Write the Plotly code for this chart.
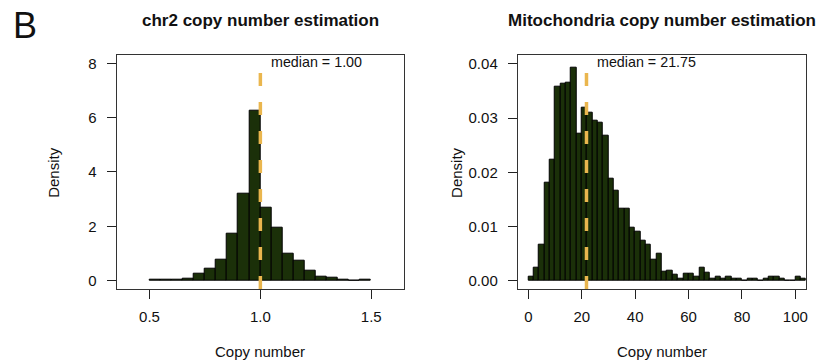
import plotly.graph_objects as go

# ---------------- data ----------------
# chr2 copy number histogram (density), bins of width 0.05 starting at 0.50
chr2_bin_start = 0.50
chr2_bin_width = 0.05
chr2_density = [0.02, 0.02, 0.02, 0.07, 0.25, 0.45, 0.77, 1.74, 3.20, 6.25,
                2.70, 1.95, 0.99, 0.72, 0.37, 0.16, 0.09, 0.02, 0.00, 0.04]
chr2_median = 1.00

# Mitochondria copy number histogram (density), bins of width 2 starting at 0
mito_bin_start = 0
mito_bin_width = 2
mito_density = [0.0007, 0.0023, 0.0066, 0.0181, 0.0224, 0.0358, 0.0363, 0.0366,
                0.0393, 0.0271, 0.0319, 0.0310, 0.0295, 0.0291, 0.0267, 0.0188,
                0.0166, 0.0133, 0.0133, 0.0098, 0.0090, 0.0074, 0.0066, 0.0039,
                0.0050, 0.0016, 0.0019, 0.0011, 0.0004, 0.0012, 0.0012, 0.0008,
                0.0023, 0.0015, 0.0003, 0.0007, 0.0003, 0.0007, 0.0004, 0.0004,
                0.0000, 0.0004, 0.0004, 0.0000, 0.0004, 0.0007, 0.0007, 0.0004,
                0.0000, 0.0000, 0.0007, 0.0004]
mito_median = 21.75

chr2_xticks = [0.5, 1.0, 1.5]
chr2_xticklabels = ["0.5", "1.0", "1.5"]
chr2_yticks = [0, 2, 4, 6, 8]
chr2_yticklabels = ["0", "2", "4", "6", "8"]
mito_xticks = [0, 20, 40, 60, 80, 100]
mito_xticklabels = ["0", "20", "40", "60", "80", "100"]
mito_yticks = [0.00, 0.01, 0.02, 0.03, 0.04]
mito_yticklabels = ["0.00", "0.01", "0.02", "0.03", "0.04"]

titles = ["chr2 copy number estimation", "Mitochondria copy number estimation"]
xlabel = "Copy number"
ylabel = "Density"
panel_letter = "B"

# ---------------- style ----------------
W, H = 827, 361
FONT = "Liberation Sans, Arial, Helvetica, sans-serif"
BAR_COLOR = "#1B3009"
MEDIAN_COLOR = "#EAB64E"

def px_x(p):
    return p / W

def px_y(p):
    return 1 - p / H

left_box = (117, 405)
right_box = (519, 808)
box_top, box_bottom = 54.7, 289

fig = go.Figure()

chr2_centers = [chr2_bin_start + chr2_bin_width * (i + 0.5) for i in range(len(chr2_density))]
mito_centers = [mito_bin_start + mito_bin_width * (i + 0.5) for i in range(len(mito_density))]

fig.add_trace(go.Bar(x=chr2_centers, y=chr2_density, width=chr2_bin_width,
                     marker=dict(color=BAR_COLOR, line=dict(color="black", width=1)),
                     xaxis="x", yaxis="y", showlegend=False))
fig.add_trace(go.Bar(x=mito_centers, y=mito_density, width=mito_bin_width,
                     marker=dict(color=BAR_COLOR, line=dict(color="black", width=1)),
                     xaxis="x2", yaxis="y2", showlegend=False))

axis_common = dict(showgrid=False, zeroline=False, showline=True, linecolor="#333",
                   linewidth=1, mirror=True, ticks="outside", ticklen=9, tickwidth=1,
                   tickcolor="#222", tickfont=dict(family=FONT, size=15, color="#111"),
                   fixedrange=True)

ydom = [px_y(box_bottom), px_y(box_top)]
fig.update_layout(
    width=W, height=H, margin=dict(l=0, r=0, t=0, b=0),
    paper_bgcolor="white", plot_bgcolor="white", bargap=0,
    xaxis=dict(domain=[px_x(left_box[0]), px_x(left_box[1])], range=[0.352, 1.648],
               tickvals=chr2_xticks, ticktext=chr2_xticklabels, anchor="y",
               ticklabelstandoff=5, **axis_common),
    yaxis=dict(domain=ydom, range=[-0.31, 8.32], tickvals=chr2_yticks,
               ticktext=chr2_yticklabels, anchor="x", ticklabelstandoff=7, **axis_common),
    xaxis2=dict(domain=[px_x(right_box[0]), px_x(right_box[1])], range=[-4, 104],
                tickvals=mito_xticks, ticktext=mito_xticklabels, anchor="y2",
                ticklabelstandoff=5, **axis_common),
    yaxis2=dict(domain=ydom, range=[-0.00155, 0.0417], tickvals=mito_yticks,
                ticktext=mito_yticklabels, anchor="x2", ticklabelstandoff=7, **axis_common),
)

# median lines
line_top = px_y(72)
for xref, med in (("x", chr2_median), ("x2", mito_median)):
    fig.add_shape(type="line", xref=xref, yref="paper", x0=med, x1=med,
                  y0=px_y(box_bottom), y1=line_top,
                  line=dict(color=MEDIAN_COLOR, width=3.5, dash="13px,16px"))

annotations = []
# median labels
for xref, med in (("x", chr2_median), ("x2", mito_median)):
    annotations.append(dict(xref=xref, yref="paper", x=med, y=px_y(62), xshift=9,
                            xanchor="left", yanchor="middle", showarrow=False,
                            text=f"median = {med:.2f}",
                            font=dict(family=FONT, size=14.3, color="#111")))
# titles
for (x0, x1), t in zip((left_box, right_box), titles):
    annotations.append(dict(xref="paper", yref="paper", x=px_x((x0 + x1) / 2), y=px_y(20),
                            xanchor="center", yanchor="middle", showarrow=False,
                            text=f"<b>{t}</b>",
                            font=dict(family=FONT, size=17, color="#111")))
    annotations.append(dict(xref="paper", yref="paper", x=px_x((x0 + x1) / 2), y=px_y(351),
                            xanchor="center", yanchor="middle", showarrow=False,
                            text=xlabel, font=dict(family=FONT, size=15, color="#111")))
for xc in (53, 457):
    annotations.append(dict(xref="paper", yref="paper", x=px_x(xc), y=px_y(172),
                            xanchor="center", yanchor="middle", showarrow=False,
                            text=ylabel, textangle=-90,
                            font=dict(family=FONT, size=15, color="#111")))
annotations.append(dict(xref="paper", yref="paper", x=px_x(11), y=px_y(25),
                        xanchor="left", yanchor="middle", showarrow=False,
                        text=panel_letter, font=dict(family=FONT, size=36, color="#111")))
fig.update_layout(annotations=annotations)

fig.write_html("out.html")
